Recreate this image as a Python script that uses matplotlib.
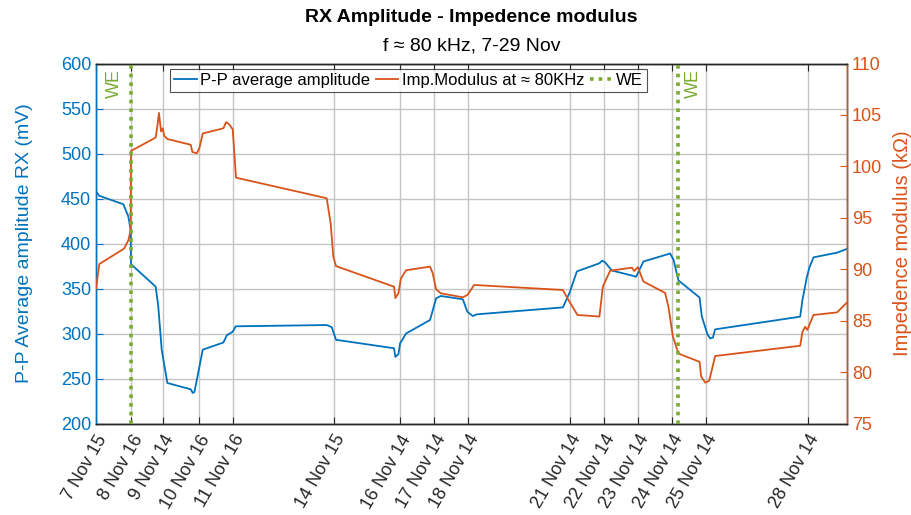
import numpy as np
import pandas as pd
import matplotlib
matplotlib.use('Agg')
import matplotlib.pyplot as plt
import matplotlib.dates as mdates
from matplotlib.lines import Line2D

plt.rcParams['font.family'] = ['Liberation Sans', 'DejaVu Sans']

# P-P average amplitude (mV), left axis
amp_time = ['11-07 15:00', '11-07 17:20', '11-08 10:20', '11-08 13:50', '11-08 15:30', '11-08 15:45',
            '11-09 09:10', '11-09 11:00', '11-09 13:25', '11-09 17:25', '11-10 09:55', '11-10 11:20',
            '11-10 12:30', '11-10 14:10', '11-10 18:25', '11-11 09:00', '11-11 11:25', '11-11 15:35',
            '11-11 17:45', '11-14 10:00', '11-14 13:35', '11-14 16:35', '11-16 09:35', '11-16 10:30',
            '11-16 12:40', '11-16 13:50', '11-16 18:05', '11-17 11:00', '11-17 15:15', '11-17 18:35',
            '11-18 10:10', '11-18 13:25', '11-18 17:15', '11-18 20:00', '11-21 08:50', '11-21 13:30',
            '11-21 18:45', '11-22 10:40', '11-22 12:35', '11-22 14:45', '11-22 19:25', '11-23 10:40',
            '11-23 12:35', '11-23 17:45', '11-24 11:25', '11-24 12:35', '11-24 15:00', '11-24 18:30',
            '11-25 09:25', '11-25 11:00', '11-25 15:00', '11-25 16:55', '11-25 18:50', '11-25 20:25',
            '11-28 08:30', '11-28 10:05', '11-28 13:15', '11-28 15:05', '11-28 17:55', '11-29 10:30',
            '11-29 17:30']
amp = [458, 453, 443.6, 430, 415, 377,
       352, 330, 282, 245, 238, 234,
       235, 248, 282, 290, 298, 302,
       308, 309.4, 307, 293, 283.6, 274,
       277, 289, 300, 315, 339, 341.7,
       338, 324, 319.4, 321.3, 329, 345,
       369, 378, 381, 379, 370, 364,
       363, 380, 388.3, 389, 382, 359,
       340, 319, 299, 294.6, 295.4, 304.6,
       318.7, 337, 363, 373.6, 384.6, 389.8,
       394]

# impedance modulus (kOhm), right axis
imp_time = ['11-07 15:00', '11-07 17:20', '11-08 10:50', '11-08 13:50', '11-08 15:30', '11-08 15:45',
            '11-09 09:10', '11-09 10:20', '11-09 11:30', '11-09 12:55', '11-09 14:05', '11-09 15:15',
            '11-09 17:25', '11-10 09:55', '11-10 11:05', '11-10 14:10', '11-10 16:00', '11-10 18:25',
            '11-11 09:00', '11-11 10:55', '11-11 13:00', '11-11 15:35', '11-11 17:55', '11-14 10:00',
            '11-14 12:50', '11-14 14:40', '11-14 16:35', '11-16 09:35', '11-16 10:30', '11-16 12:40',
            '11-16 14:25', '11-16 18:05', '11-17 11:00', '11-17 12:55', '11-17 15:15', '11-17 18:35',
            '11-18 10:10', '11-18 13:25', '11-18 18:10', '11-21 08:50', '11-21 13:30', '11-21 19:10',
            '11-22 10:40', '11-22 13:05', '11-22 18:15', '11-23 09:35', '11-23 11:15', '11-23 13:50',
            '11-23 17:45', '11-24 09:05', '11-24 11:25', '11-24 14:30', '11-24 18:30', '11-25 09:25',
            '11-25 10:35', '11-25 13:25', '11-25 16:15', '11-25 20:25', '11-28 08:30', '11-28 10:05',
            '11-28 12:00', '11-28 13:35', '11-28 17:50', '11-29 10:30', '11-29 17:30']
imp = [88.1, 90.5, 92.0, 92.8, 93.8, 101.5,
       102.8, 103.9, 105.2, 103.4, 103.7, 102.95,
       102.66, 102.1, 101.4, 101.27, 101.76, 103.2,
       103.7, 104.3, 104.1, 103.6, 98.9, 96.9,
       94.4, 91.2, 90.3, 88.3, 87.2, 87.66,
       89.1, 89.9, 90.25, 89.6, 88.05, 87.66,
       87.27, 87.5, 88.47, 87.98, 86.84, 85.55,
       85.4, 88.3, 89.86, 90.15, 89.83, 90.2,
       88.8, 87.7, 86.36, 83.5, 81.8, 81.0,
       79.55, 78.97, 79.16, 81.56, 82.56, 83.9,
       84.4, 84.1, 85.55, 85.8, 86.75]

we_time = ['11-08 15:50', '11-24 18:30']

tick_time = ['11-07 15:00', '11-08 16:00', '11-09 14:00', '11-10 16:00', '11-11 16:00',
             '11-14 15:00', '11-16 14:00', '11-17 14:00', '11-18 14:00', '11-21 14:00',
             '11-22 14:00', '11-23 14:00', '11-24 14:00', '11-25 14:00', '11-28 14:00']

def to_dt(lst):
    return pd.to_datetime(['2014-' + s for s in lst])

blue = '#0072BD'
orange = '#D95319'
green = '#77AC30'
dark = '#262626'

fig = plt.figure(figsize=(9.12, 5.15), dpi=100)
ax = fig.add_axes([96/912, 1-423.5/515, 751/912, 360/515])
ax2 = ax.twinx()

ax.plot(to_dt(amp_time), amp, color=blue, lw=1.3, zorder=3)
ax2.plot(to_dt(imp_time), imp, color=orange, lw=1.3, zorder=3)
for t in to_dt(we_time):
    ax2.axvline(t, color=green, ls=(0, (1, 1.4)), lw=2.6, zorder=4)

ax.set_xlim(to_dt(['11-07 15:00'])[0], to_dt(['11-29 17:35'])[0])
ax.set_ylim(200, 600)
ax.set_yticks(np.arange(200, 601, 50))
ax2.set_ylim(75, 110)
ax2.set_yticks(np.arange(75, 111, 5))

ax.set_xticks(to_dt(tick_time))
ax.xaxis.set_major_formatter(plt.FuncFormatter(
    lambda v, p: '{} {} {}'.format(mdates.num2date(v).day, mdates.num2date(v).strftime('%b'),
                                   mdates.num2date(v).strftime('%H'))))
plt.setp(ax.get_xticklabels(), rotation=60, ha='right', rotation_mode='anchor', fontsize=13, color=dark)

ax.grid(True, color='#c4c4c4', lw=1.0)
ax.set_axisbelow(True)

ax.tick_params(axis='x', direction='in', top=True, length=5, color=dark, labelsize=13, pad=6)
ax.tick_params(axis='y', direction='in', length=5, colors=blue, labelsize=13)
ax2.tick_params(axis='y', direction='in', length=5, colors=orange, labelsize=13)
ax2.tick_params(axis='x', top=False)

ax.spines['left'].set_color(blue)
ax2.spines['left'].set_color(blue)
ax2.spines['right'].set_color(orange)
ax2.spines['top'].set_color(dark)
ax2.spines['bottom'].set_color(dark)
for a in (ax, ax2):
    for s in a.spines.values():
        s.set_linewidth(1.0)

ax.set_ylabel('P-P Average amplitude RX (mV)', color=blue, fontsize=14, labelpad=20)
ax2.set_ylabel('Impedence modulus (k\u03a9)', color=orange, fontsize=14.5, labelpad=8)

# WE labels next to the lines
ax2.annotate('WE', (to_dt(we_time)[0], 110), xytext=(-6, -4), textcoords='offset points',
             color=green, rotation=90, fontsize=13, ha='right', va='top')
ax2.annotate('WE', (to_dt(we_time)[1], 110), xytext=(5, -4), textcoords='offset points',
             color=green, rotation=90, fontsize=13, ha='left', va='top')

handles = [Line2D([], [], color=blue, lw=1.3), Line2D([], [], color=orange, lw=1.3),
           Line2D([], [], color=green, ls=(0, (1, 1.4)), lw=2.6)]
leg = ax2.legend(handles, ['P-P average amplitude', 'Imp.Modulus at \u2248 80KHz', 'WE'],
                 loc='upper left', bbox_to_anchor=(0.0985, 0.985), ncol=3, fontsize=12,
                 frameon=True, fancybox=False, edgecolor=dark, handlelength=1.35,
                 handletextpad=0.2, columnspacing=0.35, borderpad=0.25, borderaxespad=0)
leg.get_frame().set_linewidth(0.8)

fig.text(0.517, 1-17/515, 'RX Amplitude - Impedence modulus', ha='center', va='center',
         fontsize=14, fontweight='bold', color='black')
fig.text(0.517, 1-46/515, 'f \u2248 80 kHz, 7-29 Nov', ha='center', va='center',
         fontsize=14, color='black')

fig.savefig('out.png', dpi=100)
